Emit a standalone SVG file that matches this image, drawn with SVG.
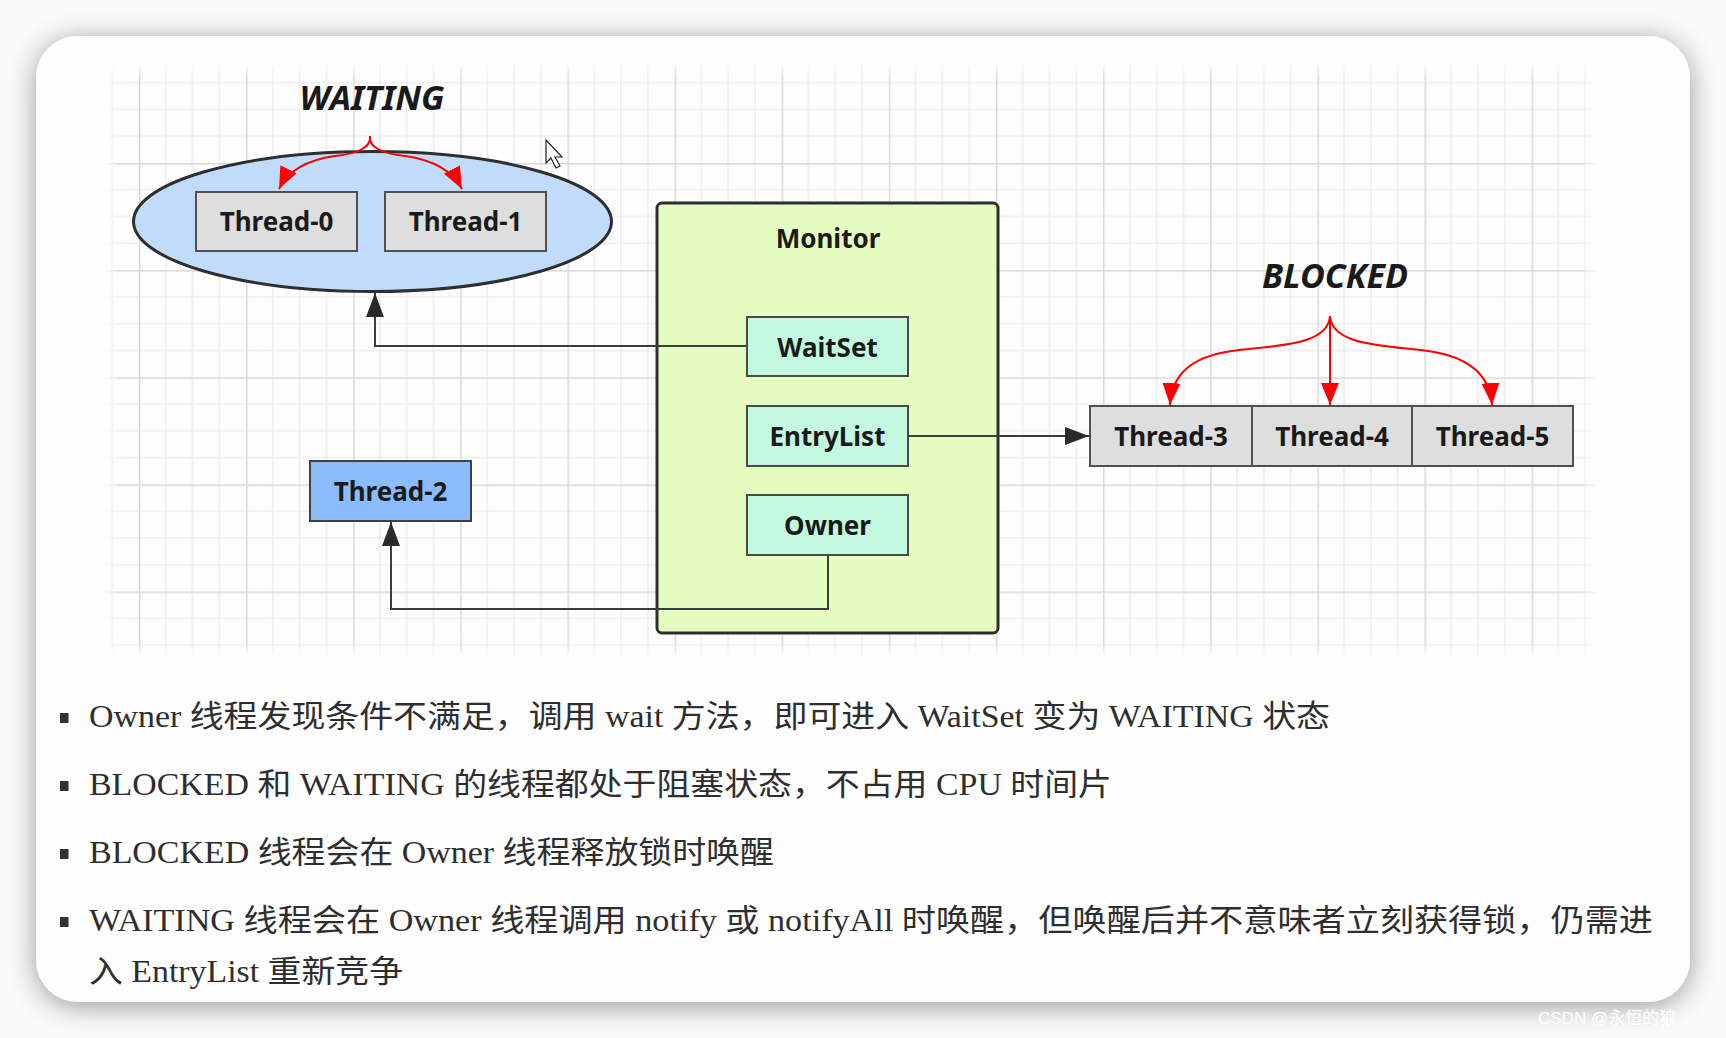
<svg xmlns="http://www.w3.org/2000/svg" width="1726" height="1038" viewBox="0 0 1726 1038">
<defs>
<style>
.lbl{font-family:"Noto Sans","Open Sans","Liberation Sans",sans-serif;font-weight:bold;font-size:26px;fill:#1a1a1a;text-anchor:middle}
.state{font-family:"Noto Sans","Open Sans","Liberation Sans",sans-serif;font-weight:bold;font-style:italic;font-size:34px;fill:#1a1a1a;text-anchor:middle}
.gray{fill:#dedede;stroke:#505050;stroke-width:2}
.mint{fill:#c3f9de;stroke:#4a4a4a;stroke-width:2}
.conn{fill:none;stroke:#3c3c3c;stroke-width:2}
.red{fill:none;stroke:#ff0000;stroke-width:2}
.txt{font-family:"Liberation Serif","Noto Sans CJK SC",serif;font-size:31px;fill:#2e2e2e}
.bul{fill:#333}
</style>
<pattern id="grid" patternUnits="userSpaceOnUse" x="139" y="163" width="107.12" height="107.12">
<path d="M26.78,0V107.12M53.56,0V107.12M80.34,0V107.12M0,26.78H107.12M0,53.56H107.12M0,80.34H107.12" stroke="#e8e8e8" stroke-width="1.2" fill="none"/>
<path d="M0.75,0V107.12M0,0.75H107.12" stroke="#d8d8d8" stroke-width="1.5" fill="none"/>
</pattern>
<filter id="blur6" x="-5%" y="-5%" width="110%" height="110%"><feGaussianBlur stdDeviation="6"/></filter>
<mask id="gmask"><rect x="112" y="70" width="1478" height="580" fill="#fff" filter="url(#blur6)"/></mask>
<filter id="shadow" x="-10%" y="-10%" width="120%" height="120%">
<feGaussianBlur in="SourceAlpha" stdDeviation="14"/>
<feOffset dx="0" dy="4" result="b"/>
<feComponentTransfer><feFuncA type="linear" slope="0.4"/></feComponentTransfer>
<feMerge><feMergeNode/><feMergeNode in="SourceGraphic"/></feMerge>
</filter>
<marker id="ab" viewBox="0 0 24 18" refX="24" refY="9" markerWidth="24" markerHeight="18" markerUnits="userSpaceOnUse" orient="auto">
<path d="M0,0L24,9L0,18z" fill="#2a2a2a"/>
</marker>
<marker id="ar" viewBox="0 0 22 18" refX="22" refY="9" markerWidth="22" markerHeight="18" markerUnits="userSpaceOnUse" orient="auto">
<path d="M0,0L22,9L0,18z" fill="#ff0000"/>
</marker>
</defs>

<rect width="1726" height="1038" fill="#fafafa"/>
<rect x="36" y="36" width="1654" height="966" rx="42" fill="#fdfdfd" filter="url(#shadow)"/>
<rect x="105" y="64" width="1491" height="593" fill="url(#grid)" mask="url(#gmask)"/>

<g id="waiting-label"><text class="state" x="372" y="110">WAITING</text></g>
<g id="waiting-set">
<ellipse cx="372.5" cy="221.5" rx="239" ry="70" fill="#c1dcfb" stroke="#2e2e2e" stroke-width="3"/>
</g>
<g id="thread-0"><rect class="gray" x="196" y="192" width="161" height="59"/><text class="lbl" x="276.5" y="231">Thread-0</text></g>
<g id="thread-1"><rect class="gray" x="385" y="192" width="161" height="59"/><text class="lbl" x="465.5" y="231">Thread-1</text></g>

<g id="monitor">
<rect x="657" y="203" width="341" height="430" rx="5" fill="#e5fcc1" stroke="#2e2e2e" stroke-width="3"/>
<text class="lbl" x="828" y="248">Monitor</text>
</g>
<g id="waitset"><rect class="mint" x="747" y="317" width="161" height="59"/><text class="lbl" x="827.5" y="357">WaitSet</text></g>
<g id="entrylist"><rect class="mint" x="747" y="406" width="161" height="60"/><text class="lbl" x="827.5" y="446">EntryList</text></g>
<g id="owner"><rect class="mint" x="747" y="495" width="161" height="60"/><text class="lbl" x="827.5" y="535">Owner</text></g>

<g id="thread-2"><rect x="310" y="461" width="161" height="60" fill="#8bbcfb" stroke="#404040" stroke-width="2"/><text class="lbl" x="390.5" y="501">Thread-2</text></g>

<g id="blocked-label"><text class="state" x="1335" y="288">BLOCKED</text></g>
<g id="thread-3"><rect class="gray" x="1090" y="406" width="162" height="60"/><text class="lbl" x="1171" y="446">Thread-3</text></g>
<g id="thread-4"><rect class="gray" x="1252" y="406" width="160" height="60"/><text class="lbl" x="1332" y="446">Thread-4</text></g>
<g id="thread-5"><rect class="gray" x="1412" y="406" width="161" height="60"/><text class="lbl" x="1492.5" y="446">Thread-5</text></g>

<g id="connectors">
<path class="conn" d="M747,346H375V293" marker-end="url(#ab)"/>
<path class="conn" d="M828,555V609H391V522" marker-end="url(#ab)"/>
<path class="conn" d="M908,436H1089" marker-end="url(#ab)"/>
<path class="red" d="M370,136Q372,152 335,156Q292,162 279,189" marker-end="url(#ar)"/>
<path class="red" d="M370,136Q368,152 405,156Q448,162 462,189" marker-end="url(#ar)"/>
<path class="red" d="M1330,316C1328,345 1280,345 1232,351C1190,357 1172,375 1170,405" marker-end="url(#ar)"/>
<path class="red" d="M1330,316V405" marker-end="url(#ar)"/>
<path class="red" d="M1330,316C1332,345 1380,345 1428,351C1470,357 1490,375 1492,405" marker-end="url(#ar)"/>
</g>

<path d="M546,140L546,163L551,158L556,168L560,166L555,157L562,157Z" fill="#fff" stroke="#222" stroke-width="1.2"/>

<g id="notes">
<rect class="bul" x="60" y="713" width="8.5" height="10"/>
<rect class="bul" x="60" y="781" width="8.5" height="10"/>
<rect class="bul" x="60" y="849" width="8.5" height="10"/>
<rect class="bul" x="60" y="917" width="8.5" height="10"/>
<text class="txt" x="89" y="727" textLength="1241" lengthAdjust="spacingAndGlyphs">Owner 线程发现条件不满足，调用 wait 方法，即可进入 WaitSet 变为 WAITING 状态</text>
<text class="txt" x="89" y="795" textLength="1023" lengthAdjust="spacingAndGlyphs">BLOCKED 和 WAITING 的线程都处于阻塞状态，不占用 CPU 时间片</text>
<text class="txt" x="89" y="863" textLength="685" lengthAdjust="spacingAndGlyphs">BLOCKED 线程会在 Owner 线程释放锁时唤醒</text>
<text class="txt" x="89" y="931" textLength="1564" lengthAdjust="spacingAndGlyphs">WAITING 线程会在 Owner 线程调用 notify 或 notifyAll 时唤醒，但唤醒后并不意味者立刻获得锁，仍需进</text>
<text class="txt" x="89" y="982" textLength="314" lengthAdjust="spacingAndGlyphs">入 EntryList 重新竞争</text>
</g>
<text x="1538" y="1024" font-family="Liberation Sans,'Noto Sans CJK SC',sans-serif" font-size="17" fill="#ffffff">CSDN @永恒的狼</text>
</svg>
